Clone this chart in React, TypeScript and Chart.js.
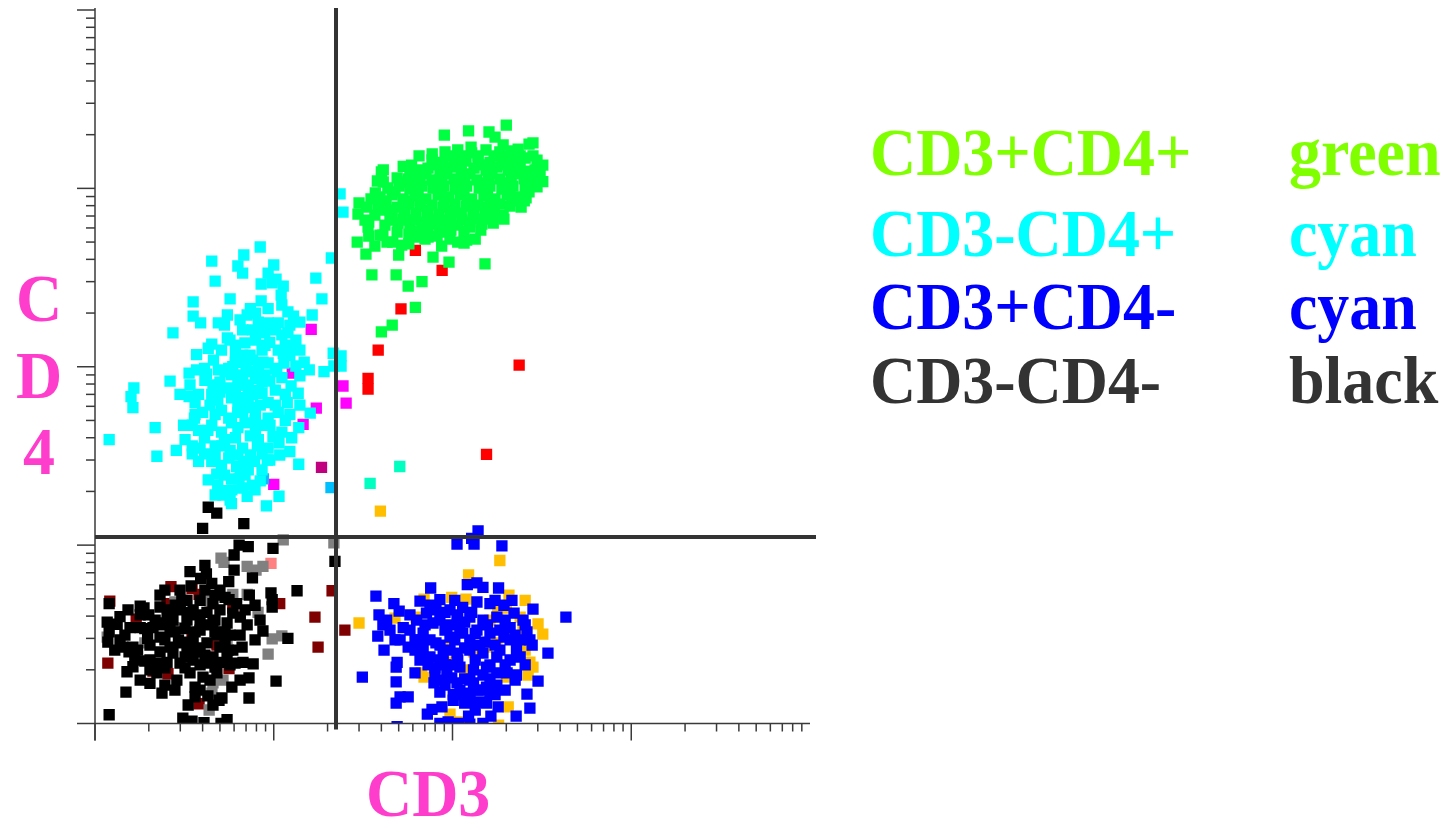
import { useEffect, useRef } from "react";
import { Chart, Plugin, registerables } from "chart.js";

Chart.register(...registerables);

type Cell = [number, number]; // [CD3, CD4] fluorescence

// quadrant gates
const cd3Gate = 22.3;
const cd4Gate = 11.1;

// log axis ticks
const decades = [1, 10, 100, 1000];
const tickSteps = [1, 2, 3, 4, 5, 6, 7, 8, 9];
const axisMax = 10000;

const greenCells: Cell[] = [
  [200, 2260], [123, 2100], [160, 2070], [90, 1990], [173, 1940], [282, 1800], [268, 1770], [233, 1660],
  [192, 1750], [127, 1700], [65, 1520], [77, 1560], [282, 1520], [297, 1440], [320, 1350], [53, 1330],
  [59, 1350], [41, 1270], [40, 1235], [215, 1320], [286, 1235], [320, 1090], [297, 1020], [38, 1100],
  [41, 1086], [50.9, 1086], [57.8, 1189], [37, 943], [35, 873], [30, 828], [29.6, 717], [33, 785],
  [34, 647], [33.7, 606], [34, 540], [29.3, 500], [32.8, 428], [36.8, 475], [40.8, 547], [43, 500],
  [49, 568], [52, 481], [50, 423], [57, 554], [57, 488], [35.4, 327], [48.4, 327], [56.5, 283],
  [67.5, 300], [77.8, 412], [87, 475], [95.6, 386], [107, 500], [120, 513], [116, 494], [152, 377],
  [144, 583], [169, 638], [192, 708], [242, 785], [258, 885], [268, 955], [64, 533], [73, 533],
  [82, 540], [125, 606], [85, 606], [56, 664], [44.7, 755], [39.3, 755], [44.7, 664], [62, 215],
  [46, 171], [40, 157],
  [90.8, 1600], [107, 1641], [128, 1580], [154, 1641], [184, 1600], [215, 1620],
  [96.8, 1520], [116, 1520], [139, 1520], [171, 1520], [205, 1520], [239, 1520],
  [76.8, 1443], [88.5, 1400], [103, 1460], [119, 1420], [139, 1460], [162, 1400], [189, 1443], [224, 1420], [255, 1480],
  [82.2, 1353], [110, 1353], [148, 1353], [197, 1353],
  [64.2, 1268], [73, 1300], [85.1, 1268], [98, 1318], [112, 1268], [132, 1300], [154, 1268], [177, 1318], [205, 1268],
  [239, 1300], [271, 1250], [233, 1235], [290, 1268], [309, 1189],
  [59.4, 1205], [71.1, 1205], [93, 1205], [125, 1205], [166, 1205], [224, 1205], [255, 1205], [300, 1205],
  [49, 1145], [56.5, 1130], [65.8, 1160], [76.8, 1115], [87.3, 1160], [102, 1130], [117, 1160], [137, 1115],
  [159, 1160], [184, 1130], [213, 1160], [252, 1130], [282, 1145],
  [61.7, 1073], [82.2, 1073], [110, 1073], [148, 1073], [197, 1073], [265, 1073],
  [43.5, 1005], [50.3, 1030], [57.8, 990], [67.5, 1030], [77.8, 1005], [89.7, 1030], [104, 990], [120, 1030],
  [141, 1005], [162, 1030], [189, 990], [218, 1030], [255, 1005],
  [47.7, 955], [64.2, 955], [86.3, 955], [116, 955], [157, 955], [210, 955],
  [39.3, 895], [46, 919], [52.9, 873], [61.7, 907], [71.1, 873], [83, 919], [95.6, 895], [111, 919], [128, 873],
  [150, 907], [173, 873], [202, 919], [230, 895],
  [40.8, 850], [56.5, 850], [65.8, 850], [89.7, 850], [121, 850], [162, 850], [215, 850], [252, 850],
  [42.5, 806], [49, 785], [57, 817], [65.8, 795], [76.8, 806], [88.5, 785], [103, 817], [119, 795], [139, 806],
  [159, 785], [184, 817], [210, 795], [38.2, 806],
  [54.2, 755], [73, 755], [98.1, 755], [132, 755], [171, 755],
  [46, 717], [53.5, 700], [62.5, 726], [72.1, 708], [84, 717], [96.8, 700], [112, 726], [130, 708], [152, 717], [175, 700],
  [36.8, 708], [32.4, 664],
  [52.9, 672], [74.8, 672], [98.1, 672], [134, 672], [162, 672], [194, 672],
  [61.7, 664], [85.1, 664], [113, 664],
  [49.6, 638], [57.8, 622], [67.5, 647], [79, 630], [92, 638], [107, 622], [125, 647], [146, 630], [41.9, 622],
  [70.2, 599], [96.8, 599], [39.3, 547], [46.3, 500],
  [61.7, 575], [73, 583], [85.1, 568], [98, 583], [116, 575],
  [70.2, 520], [96.8, 520], [134, 520],
];

const cyanCells: Cell[] = [
  [8.4, 469], [6.8, 423], [4.5, 391], [6.3, 367], [6.7, 335], [10.0, 372], [9.3, 335], [21, 407],
  [4.7, 302], [8.5, 291], [9.8, 295], [10.3, 310], [11.3, 283], [17.2, 314], [11, 252], [5.7, 240],
  [8.5, 234], [3.54, 231], [11.1, 222], [18.6, 240], [3.54, 192], [5.5, 195], [16.4, 195], [12.9, 192],
  [3.9, 176], [4.9, 176], [2.73, 155], [6.7, 161], [7.1, 195], [7.9, 200], [8.2, 178], [9.3, 176],
  [10.6, 176], [7.6, 161], [8.9, 155], [11.1, 151], [12, 155], [13.3, 141], [5.5, 145], [4.5, 134],
  [4.3, 127], [6.1, 132], [6.9, 136], [9.5, 137], [8.6, 124], [10.6, 124], [11.3, 119], [3.7, 117],
  [4.6, 109], [6.7, 116], [7.6, 109], [8.7, 106], [9.3, 105], [14.8, 106], [13.3, 101], [11.4, 105],
  [21.5, 119], [23.8, 115], [21.7, 101], [23.8, 101], [19.1, 94], [15.8, 96], [14, 89], [10.4, 94],
  [4.1, 98], [3.7, 96], [3.36, 92], [4.2, 91], [4.9, 96], [5.6, 98], [6.1, 106], [2.63, 83],
  [1.65, 76], [1.59, 68], [1.63, 59], [3.36, 68], [3.8, 70], [4.5, 70], [3.63, 63], [4.4, 61],
  [5, 82], [5, 72], [5.8, 90], [6.7, 90], [7.6, 94], [8.6, 82], [6.3, 79], [7.2, 76], [5.6, 76],
  [5.8, 67], [6.7, 67], [7.6, 70], [8.6, 71], [9.3, 63], [11.9, 63], [12.5, 78], [13.7, 71],
  [10.6, 55.5], [16, 55], [6.3, 59], [7.6, 59], [5.1, 57], [4.0, 55.5],
  [2.17, 45.6], [1.2, 39], [2.85, 34], [2.22, 31.5], [3.5, 47], [3.6, 51.5], [3.5, 36], [3.5, 32.5],
  [4.1, 40], [4.1, 32.5], [4.5, 29.5], [4.7, 36], [5.1, 43], [5.6, 51.5], [6.1, 40], [6.7, 35],
  [5.6, 30.8], [5.1, 28], [6.9, 48.5], [7.9, 54], [8.6, 47], [9.3, 51.5], [11.1, 43], [10.7, 37.5],
  [9.3, 35], [8.1, 36], [8.6, 32.5], [9.9, 40.5], [12.3, 33.5], [13.8, 45.6], [13.8, 28.4], [6.8, 29.5],
  [7.2, 26.4], [8.6, 26.4], [8.4, 22.9], [7.6, 21.7], [6.7, 20.9], [7.1, 18.8], [10.7, 18.8], [9.1, 16.6],
  [4.8, 25], [4.3, 23.2], [5.8, 23.5], [4.7, 19.1], [5.2, 19.1], [5.4, 20.2], [5.7, 17.9], [5.8, 17.1],
  [6.4, 23.5], [23.5, 931], [24.4, 736],
  [5.9, 100], [7.0, 101], [8.2, 97], [10.2, 98], [6.5, 84], [7.9, 86], [9.5, 83], [11.1, 87],
  [6.1, 72], [8.2, 74], [10.2, 74], [7.2, 63], [8.4, 61], [6.7, 55.5], [5.8, 48.5],
  [3.8, 44], [4.5, 47], [4.7, 54], [5.3, 39], [6.3, 45.6], [7.4, 41], [7.9, 44], [5.7, 34],
  [7.4, 32], [4.7, 32], [3.8, 29.5], [6.2, 27.6], [7.8, 29.5], [5.3, 24.7], [6.5, 26.4], [9.5, 30],
  [10.8, 32], [11.6, 50], [12.6, 40], [3.19, 39],
  [7.4, 212], [9.3, 212], [12, 203], [12.3, 171], [14, 178], [7.9, 141], [11.6, 132], [6.1, 114],
  [5.1, 124], [12.3, 116], [14, 124], [5.3, 171],
  [4.12, 84], [5.34, 94], [6.91, 79], [8.94, 90], [11.6, 70], [4.86, 65], [6.3, 55.5], [7.86, 50],
  [9.53, 47], [4.28, 44], [5.13, 36], [6.3, 32], [8.2, 39], [9.2, 30], [3.87, 35], [6.91, 24.7],
  [5.83, 20.4], [7.86, 20.4], [4.86, 21.7], [8.94, 132], [7.37, 116], [5.69, 141], [10.2, 161], [12.6, 127],
  [6.48, 183], [8.38, 161], [4.57, 79], [3.4, 79], [2.99, 70], [3.63, 54], [3.13, 47], [10.2, 61],
  [12.3, 54], [14, 61],
];

const blueCells: Cell[] = [
  [139, 12.0], [128, 10.9], [106, 10.15], [132, 10.15], [189, 9.9], [75.5, 5.75], [121, 6.0], [137, 6.15],
  [148, 5.8], [181, 5.75], [37.3, 5.18], [47, 4.7], [50.3, 4.27], [65.8, 4.85], [85, 4.95], [282, 4.38],
  [431, 3.95], [38.8, 4.06], [40.8, 3.57], [38.2, 3.09], [44.7, 3.34], [53, 3.45], [57.8, 4.06], [63, 3.8],
  [71.5, 4.16], [80.8, 4.33], [96.8, 4.33], [114, 4.48], [137, 4.8], [162, 4.7], [194, 4.6], [221, 4.16],
  [248, 3.8], [261, 3.26], [279, 2.75], [342, 2.48], [41.4, 2.58], [49, 2.2], [48.4, 2.07], [56.5, 2.68],
  [61.7, 2.94], [68.5, 3.21], [77.8, 3.66], [93, 3.48], [106, 3.8], [125, 3.95], [148, 3.8], [177, 3.95],
  [210, 3.45], [239, 2.94], [68.5, 2.58], [80.8, 2.83], [96.8, 3.05], [114, 3.21], [137, 3.34], [162, 3.21],
  [194, 3.05], [228, 2.58], [74.8, 2.36], [88.7, 2.42], [106, 2.48], [125, 2.58], [148, 2.48], [177, 2.36],
  [210, 2.27], [239, 2.36], [31.3, 1.82], [61.7, 1.92], [79.8, 2.05], [93, 1.92], [110, 2.07], [131, 2.0],
  [155, 2.07], [177, 1.92], [202, 1.92], [228, 1.87], [301, 1.73], [48.4, 1.71], [78.8, 1.69], [90.8, 1.64],
  [106, 1.69], [131, 1.69], [155, 1.6], [177, 1.64], [85, 1.5], [101, 1.45], [125, 1.48], [162, 1.48],
  [261, 1.46], [50.9, 1.41], [56.5, 1.41], [48.4, 1.3], [101, 1.35], [117, 1.3], [142, 1.32], [155, 1.3],
  [87.3, 1.24], [180, 1.24], [271, 1.22], [76.8, 1.2], [72.3, 1.13], [123, 1.1], [164, 1.1], [227, 1.1],
  [49, 0.96], [85, 1.0], [94.5, 1.02], [108, 1.0], [125, 0.99], [148, 1.0],
  [103, 2.94], [125, 2.94], [152, 2.86], [90.8, 3.34], [117, 3.7], [103, 2.13], [134, 2.27], [162, 2.13],
  [110, 1.54], [142, 1.54], [184, 2.58], [85, 3.8], [70.2, 3.57], [197, 3.8], [173, 2.75], [79.8, 1.87],
  [125, 1.75], [96.8, 2.58], [210, 2.94], [74.8, 2.94],
  [90.8, 4.2], [107, 4.06], [128, 4.2], [85.1, 2.75], [117, 2.65], [142, 2.75], [134, 3.2], [107, 2.27],
  [90.8, 2.13], [148, 1.87], [197, 2.13], [117, 1.78], [99, 1.8], [162, 1.78], [65.8, 2.27], [57.8, 3.34],
  [47.7, 2.94], [184, 3.34], [224, 3.13], [125, 1.35], [134, 1.19],
  [42.8, 3.8], [50.9, 2.94], [61.7, 2.58], [73, 2.13], [87.3, 1.75], [113, 1.45], [139, 1.54], [173, 1.45],
  [197, 1.54], [224, 1.75], [255, 2.13], [271, 2.94], [255, 3.57], [215, 4.9], [173, 4.9], [103, 4.9],
  [74.8, 4.6], [65.8, 2.94], [85.1, 2.27], [110, 3.34], [157, 3.57], [96.8, 3.57],
];

const orangeCells: Cell[] = [
  [184, 8.2], [123, 6.8], [69.3, 4.98], [99, 5.1], [119, 4.98], [207, 5.25], [255, 4.9], [47.7, 3.9],
  [30, 3.66], [62.5, 3.95], [162, 3.8], [179, 4.33], [200, 4.43], [239, 3.95], [301, 3.62], [248, 3.34],
  [320, 3.17], [200, 3.13], [177, 2.83], [155, 2.68], [131, 2.52], [93, 2.65], [255, 2.58], [271, 2.21],
  [282, 2.07], [265, 1.87], [200, 1.82], [67, 1.92], [69.3, 1.82], [94.5, 2.21], [117, 2.0], [205, 1.24],
  [96.8, 1.13], [181, 0.98], [110, 1.02], [39.5, 15.5],
];

const blackCells: Cell[] = [
  [4.3, 16.3], [4.8, 15.1], [4.0, 12.4], [6.8, 13.2],
  [6.4, 10.0], [7.2, 9.8], [9.9, 9.6], [6.0, 8.8], [3.4, 7.1], [4.2, 6.9], [6.0, 7.25], [7.6, 6.55],
  [3.9, 6.5], [4.5, 6.1], [5.6, 6.25], [3.45, 5.9], [9.65, 5.4], [13.5, 5.55], [7.3, 5.25], [9.8, 4.95],
  [9.8, 4.5], [1.2, 4.7], [1.88, 4.45], [2.31, 4.5], [3.27, 4.9], [3.87, 4.9], [4.57, 4.7], [5.62, 4.95],
  [6.2, 4.7], [2.0, 4.06], [2.53, 4.16], [3.0, 4.33], [3.54, 4.33], [4.23, 4.2], [5.0, 4.33], [5.9, 4.16],
  [6.5, 3.95], [1.17, 3.7], [1.33, 3.6], [1.57, 3.45], [1.79, 3.45], [2.11, 3.45], [2.4, 3.66], [2.73, 3.8],
  [3.27, 3.8], [3.87, 3.7], [4.57, 3.66], [5.48, 3.66], [7.1, 3.57], [1.2, 3.26], [1.18, 2.86], [8.7, 3.3],
  [12.0, 3.0], [1.43, 2.68], [1.63, 2.68], [1.55, 2.52], [2.03, 2.75], [2.31, 2.52], [2.63, 2.68], [2.99, 2.83],
  [3.54, 2.94], [4.23, 2.83], [5.0, 2.68], [5.9, 2.58], [6.65, 2.68], [2.73, 2.48], [3.27, 2.48], [3.87, 2.52],
  [4.57, 2.36], [5.48, 2.42], [1.9, 2.24], [2.22, 2.18], [2.53, 2.2], [2.99, 2.18], [3.54, 2.27], [4.23, 2.18],
  [5.0, 2.2], [6.73, 2.2], [7.67, 2.16], [1.63, 2.08], [1.51, 1.95], [2.22, 1.92], [2.87, 1.75], [3.4, 1.92],
  [4.02, 1.82], [4.81, 1.92], [7.27, 1.8], [10.3, 1.73], [3.63, 1.6], [5.83, 1.6], [1.49, 1.5], [2.37, 1.48],
  [4.28, 1.43], [5.13, 1.39], [7.27, 1.39], [4.57, 1.27], [1.2, 1.12], [3.1, 1.07], [3.49, 1.03], [4.07, 1.01],
  [5.07, 1.0], [5.48, 1.05], [22, 8.1],
  [2.8, 3.26], [3.63, 3.26], [4.69, 3.26], [5.69, 3.13], [3.19, 2.86], [4.69, 2.07], [2.46, 2.94], [3.87, 2.13],
  [3.19, 2.05], [5.34, 2.94], [2.31, 3.05], [2.8, 4.6], [5.34, 5.1], [4.12, 5.6], [1.79, 4.55], [1.38, 3.97],
  [2.03, 1.68],
  [1.79, 4.06], [2.17, 3.8], [2.63, 3.34], [3.19, 3.4], [3.87, 3.34], [4.69, 3.8], [5.34, 3.26], [6.48, 3.13],
  [1.67, 2.27], [2.03, 2.0], [2.46, 2.05], [3.19, 2.36], [3.75, 2.65], [4.4, 1.75], [6.07, 2.18], [3.63, 1.41],
  [2.8, 1.54], [3.32, 1.27], [1.38, 2.94], [7.86, 2.94], [8.38, 3.8], [7.86, 4.6], [4.12, 7.7], [5.0, 5.6],
  [2.99, 5.6], [2.31, 5.25], [1.53, 4.33], [3.4, 4.2], [1.9, 3.4],
  [1.29, 2.58], [1.47, 3.13], [1.73, 2.58], [1.97, 3.0], [2.31, 3.57], [2.63, 4.33], [2.93, 2.94], [3.4, 2.58],
  [4.12, 2.42], [4.81, 3.13], [5.55, 2.58], [6.91, 4.33], [4.28, 3.57], [3.7, 4.06], [3.06, 4.9], [2.46, 5.6],
  [4.69, 5.25], [1.79, 1.75], [2.46, 1.64], [3.87, 1.54], [4.94, 1.35], [2.03, 2.27], [6.48, 1.75], [5.69, 2.13],
];

const darkRedCells: Cell[] = [
  [1.21, 4.85], [2.66, 5.85], [3.49, 5.7], [3.82, 5.3], [2.53, 4.7], [4.51, 4.7], [5.9, 4.43], [10.8, 4.7],
  [1.7, 3.85], [17, 3.95], [25, 3.34], [3.49, 3.13], [4.81, 2.75], [17.7, 2.68], [1.18, 2.18], [2.11, 1.97],
  [2.56, 1.9], [5.62, 2.03], [3.82, 1.29], [21.2, 5.55],
];

const grayCells: Cell[] = [
  [11.3, 10.7], [21.7, 10.3], [5.07, 8.45], [5.27, 8.0], [7.1, 7.6], [7.96, 7.25], [8.7, 7.6], [5.9, 5.3],
  [7.1, 5.3], [2.8, 4.8], [4.4, 4.85], [8.17, 4.2], [3.03, 3.45], [4.81, 3.13], [5.48, 3.0], [9.8, 2.98],
  [11.1, 3.1], [1.9, 2.83], [9.3, 2.45], [1.17, 3.05], [4.57, 1.69], [5.2, 1.75], [4.35, 1.19], [4.51, 1.48],
];

const pinkCells: Cell[] = [[9.65, 7.9]];
const redCells: Cell[] = [
  [62, 449], [87.5, 347], [51.5, 211], [38.4, 124], [33.7, 86], [33.7, 75], [236, 102], [155, 32.3],
];
const magentaCells: Cell[] = [
  [24.4, 78], [25.4, 62.6], [16.2, 162], [8.9, 89], [12.7, 92], [17.3, 58.6], [10, 21.9], [14.6, 47.5],
];
const darkMagentaCells: Cell[] = [[18.5, 27.3]];
const skyCells: Cell[] = [[8.75, 23.5], [20.9, 21]];
const aquaCells: Cell[] = [[50.7, 27.6], [34.6, 22.2]];

const populations: { name: string; color: string; cells: Cell[] }[] = [
  { name: "CD3-CD4-", color: "#000000", cells: blackCells },
  { name: "gray", color: "#808080", cells: grayCells },
  { name: "dark red", color: "#7f0000", cells: darkRedCells },
  { name: "pink", color: "#ff8080", cells: pinkCells },
  { name: "CD3+CD4-", color: "#0000ff", cells: blueCells },
  { name: "orange", color: "#ffbf00", cells: orangeCells },
  { name: "CD3-CD4+", color: "#00ffff", cells: cyanCells },
  { name: "sky", color: "#00bfff", cells: skyCells },
  { name: "aqua", color: "#00ffc0", cells: aquaCells },
  { name: "CD3+CD4+", color: "#00ff40", cells: greenCells },
  { name: "magenta", color: "#ff00ff", cells: magentaCells },
  { name: "dark magenta", color: "#c0007f", cells: darkMagentaCells },
  { name: "red", color: "#ff0000", cells: redCells },
];

const legendRows = [
  { text: "CD3+CD4+", colorName: "green", color: "#80ff00" },
  { text: "CD3-CD4+", colorName: "cyan", color: "#00ffff" },
  { text: "CD3+CD4-", colorName: "cyan", color: "#0000ff" },
  { text: "CD3-CD4-", colorName: "black", color: "#333333" },
];
const legendTops = [118, 199, 272, 346];

const axisPlugin: Plugin<"scatter"> = {
  id: "flowAxes",
  afterDatasetsDraw(chart) {
    const { ctx } = chart;
    const x = chart.scales.x;
    const y = chart.scales.y;
    const left = x.left;
    const bottom = y.bottom;
    const seg = (x1: number, y1: number, x2: number, y2: number) => {
      ctx.beginPath();
      ctx.moveTo(x1, y1);
      ctx.lineTo(x2, y2);
      ctx.stroke();
    };
    ctx.save();
    ctx.strokeStyle = "#3a3a3a";
    ctx.lineWidth = 1.5;
    seg(left, y.top - 2, left, bottom + 17);
    seg(left, bottom, x.right, bottom);
    const yTicks = [...decades.flatMap((d) => tickSteps.map((s) => ({ v: s * d, major: s === 1 }))), { v: axisMax, major: true }];
    yTicks.forEach(({ v, major }) => {
      const py = y.getPixelForValue(v);
      seg(left - (major ? 18 : 9), py, left, py);
    });
    decades.forEach((d) =>
      tickSteps.forEach((s) => {
        const px = x.getPixelForValue(s * d);
        seg(px, bottom, px, bottom + (s === 1 ? 17 : 8));
      })
    );
    // quadrant gates
    ctx.strokeStyle = "#333333";
    ctx.lineWidth = 4;
    const gx = x.getPixelForValue(cd3Gate);
    const gy = y.getPixelForValue(cd4Gate);
    seg(gx, y.top - 2, gx, bottom + 6);
    seg(left, gy, x.right + 6, gy);
    ctx.restore();
  },
};

const serif = '"Liberation Serif", "Times New Roman", serif';

export default function App() {
  const chartRef = useRef<HTMLCanvasElement>(null);
  const chartInstance = useRef<Chart | null>(null);

  useEffect(() => {
    if (!chartRef.current) return;
    if (chartInstance.current) chartInstance.current.destroy();

    chartInstance.current = new Chart(chartRef.current, {
      type: "scatter",
      data: {
        datasets: populations.map((p) => ({
          label: p.name,
          data: p.cells.map(([cd3, cd4]) => ({ x: cd3, y: cd4 })),
          backgroundColor: p.color,
          borderWidth: 0,
          pointStyle: "rect",
          pointRadius: 8,
          pointHoverRadius: 8,
        })),
      },
      options: {
        responsive: false,
        animation: false,
        events: [],
        layout: { padding: { left: 95, right: 646, top: 10, bottom: 97.5 } },
        plugins: { legend: { display: false }, tooltip: { enabled: false } },
        scales: {
          x: { type: "logarithmic", min: 1, max: axisMax, display: false },
          y: { type: "logarithmic", min: 1, max: axisMax, display: false },
        },
      },
      plugins: [axisPlugin],
    });

    return () => {
      if (chartInstance.current) {
        chartInstance.current.destroy();
        chartInstance.current = null;
      }
    };
  }, []);

  const label = {
    position: "absolute" as const,
    fontFamily: serif,
    fontWeight: 700,
    fontSize: 68,
    lineHeight: 1,
    whiteSpace: "nowrap" as const,
    transform: "scaleX(0.94)",
    transformOrigin: "left center",
  };

  return (
    <div style={{ position: "absolute", left: 0, top: 0, width: 1456, height: 821, background: "#fff", overflow: "hidden" }}>
      <canvas ref={chartRef} width={1456} height={821} style={{ position: "absolute", left: 0, top: 0, width: 1456, height: 821 }} />
      {["C", "D", "4"].map((ch, i) => (
        <div key={ch} style={{ ...label, left: 0, width: 78, textAlign: "center", transformOrigin: "center", top: 264 + i * 76.5, color: "#ff3dcc" }}>
          {ch}
        </div>
      ))}
      <div style={{ ...label, left: 366, top: 759, color: "#ff3dcc" }}>CD3</div>
      {legendRows.map((r, i) => (
        <div key={i}>
          <div style={{ ...label, left: 870, top: legendTops[i], color: r.color }}>{r.text}</div>
          <div style={{ ...label, left: 1289, top: legendTops[i], color: r.color }}>{r.colorName}</div>
        </div>
      ))}
    </div>
  );
}
